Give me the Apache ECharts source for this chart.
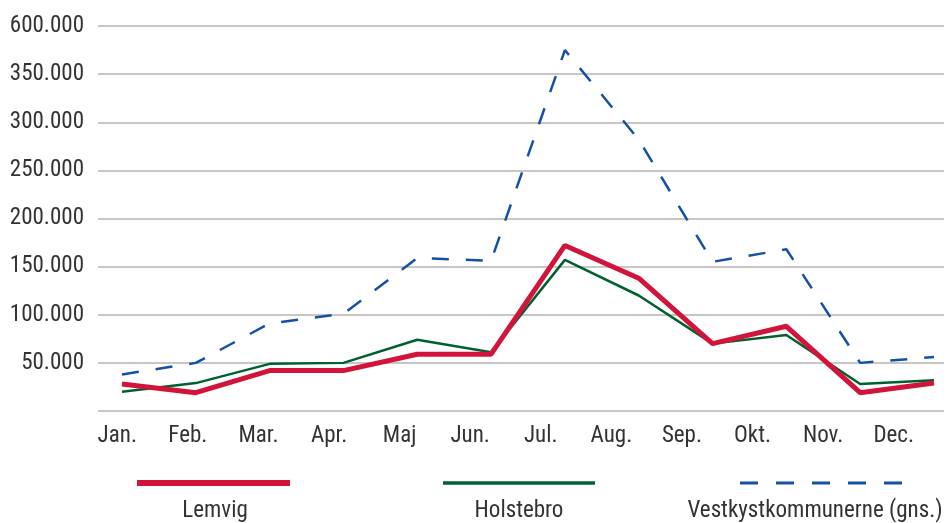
<!DOCTYPE html>
<html>
<head>
<meta charset="utf-8">
<script src="https://cdn.jsdelivr.net/npm/echarts@6/dist/echarts.min.js"></script>
<style>html,body{margin:0;padding:0;background:#fff}#c{width:950px;height:523px}</style>
</head>
<body>
<div id="c"></div>
<script>
const categories = ['Jan.','Feb.','Mar.','Apr.','Maj','Jun.','Jul.','Aug.','Sep.','Okt.','Nov.','Dec.'];
const seriesNames = ['Lemvig','Holstebro','Vestkystkommunerne (gns.)'];
// values in thousands
const lemvig = [28, 19, 42, 42, 59, 59, 172, 138, 70, 88, 19, 29];
const holstebro = [20, 29, 49, 50, 74, 61, 157, 120, 70, 79, 28, 32];
const vestkyst = [38, 50, 91, 101, 159, 156, 375, 282, 155, 168, 50, 56];
const yTickLabels = ['', '50.000', '100.000', '150.000', '200.000', '250.000', '300.000', '350.000', '600.000'];
const colors = ['#d2143a', '#00602f', '#1450a8'];

const FONT = "'Liberation Sans Narrow','Roboto Condensed','Roboto',sans-serif";
const txt = '#333333';
const chart = echarts.init(document.getElementById('c'), null, {renderer: 'canvas'});

const legendX = [[137, 290, 215], [443, 595, 519], [740, 902, 815]];
const legendStyles = [
  {lineWidth: 6, lineDash: null},
  {lineWidth: 3.5, lineDash: null},
  {lineWidth: 3, lineDash: [18, 18]}
];
const graphics = [];
seriesNames.forEach((n, i) => {
  graphics.push({type: 'line', shape: {x1: legendX[i][0], y1: 483, x2: legendX[i][1], y2: 483},
    style: {stroke: colors[i], lineWidth: legendStyles[i].lineWidth, lineDash: legendStyles[i].lineDash}});
  graphics.push({type: 'text', x: legendX[i][2], y: 511,
    style: {text: n, fill: txt, font: '23px ' + FONT, textAlign: 'center', textVerticalAlign: 'middle'}});
});

chart.setOption({
  animation: false,
  grid: [
    {left: 98, right: 6, top: 26, bottom: 112},
    {left: 82, right: 21, top: 26, bottom: 112},
    {left: 122, right: 16, top: 26, bottom: 112}
  ],
  xAxis: [
    {gridIndex: 0, type: 'value', min: 0, max: 1, show: true,
      axisLine: {show: false}, axisTick: {show: false}, axisLabel: {show: false}, splitLine: {show: false}},
    {gridIndex: 1, type: 'category', data: categories, boundaryGap: true,
      axisLine: {show: false}, axisTick: {show: false},
      axisLabel: {color: txt, fontFamily: FONT, fontSize: 23, margin: 14}},
    {gridIndex: 2, type: 'category', data: categories, boundaryGap: false, show: false}
  ],
  yAxis: [
    {gridIndex: 0, type: 'value', min: 0, max: 400, interval: 50,
      axisLine: {show: false}, axisTick: {show: false},
      axisLabel: {color: txt, fontFamily: FONT, fontSize: 23, margin: 14,
        formatter: v => yTickLabels[Math.round(v / 50)]},
      splitLine: {lineStyle: {color: '#b4b4b4', width: 1.5}}},
    {gridIndex: 1, type: 'value', min: 0, max: 400, show: false},
    {gridIndex: 2, type: 'value', min: 0, max: 400, show: false}
  ],
  series: [
    {name: seriesNames[2], type: 'line', xAxisIndex: 2, yAxisIndex: 2, data: vestkyst, symbol: 'none',
      lineStyle: {color: colors[2], width: 2.5, type: [17, 17]}},
    {name: seriesNames[1], type: 'line', xAxisIndex: 2, yAxisIndex: 2, data: holstebro, symbol: 'none',
      lineStyle: {color: colors[1], width: 2.5}},
    {name: seriesNames[0], type: 'line', xAxisIndex: 2, yAxisIndex: 2, data: lemvig, symbol: 'none',
      lineStyle: {color: colors[0], width: 5}}
  ],
  graphic: graphics
});
</script>
</body>
</html>
